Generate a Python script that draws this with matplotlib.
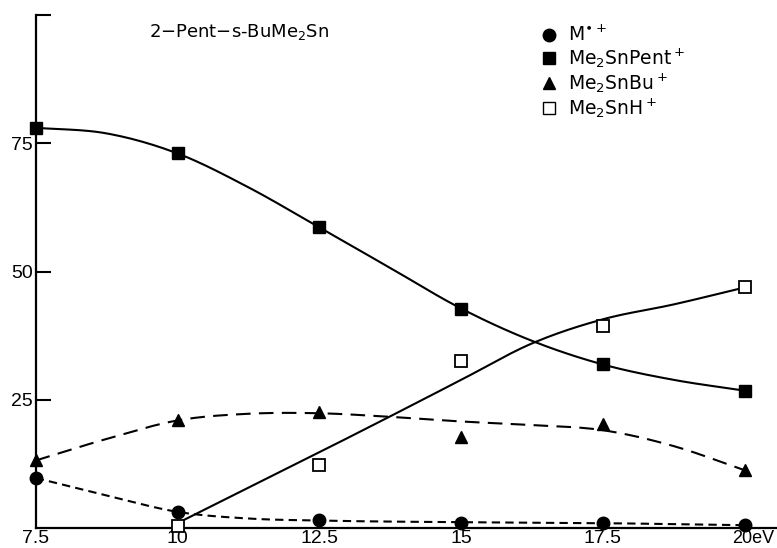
import numpy as np
import matplotlib.pyplot as plt
from matplotlib.lines import Line2D

# electron energy (eV) and relative ion intensities (%)
energy = [7.5, 10, 12.5, 15, 17.5, 20]
m_ion = [9.8, 3.2, 1.7, 1.0, 1.0, 0.6]
pent_ion = [78.0, 73.0, 58.6, 42.8, 31.9, 26.8]
bu_ion = [13.2, 21.0, 22.6, 17.7, 20.4, 11.3]
h_energy = [10, 12.5, 15, 17.5, 20]
h_ion = [0.4, 12.3, 32.5, 39.3, 46.9]

# hand-fitted trend curves, sampled every 1.25 eV
curve_e = [7.5, 8.75, 10, 11.25, 12.5, 13.75, 15, 16.25, 17.5, 18.75, 20]
m_curve = [9.8, 6.4, 3.2, 1.9, 1.5, 1.3, 1.2, 1.1, 1.0, 0.8, 0.6]
pent_curve = [78.0, 76.9, 73.0, 66.4, 58.6, 50.7, 42.8, 36.5, 31.9, 28.9, 26.8]
bu_curve = [13.2, 17.4, 21.0, 22.3, 22.4, 21.7, 20.8, 20.1, 19.1, 16.0, 11.3]
h_curve_e = [10, 11.25, 12.5, 13.75, 15, 16.25, 17.5, 18.75, 20]
h_curve = [1.0, 7.9, 14.8, 21.8, 28.9, 36.0, 40.7, 43.6, 46.9]


def smooth(x, y, n=20):
    # cubic Hermite segments through the sampled curve points
    x = np.asarray(x, float)
    y = np.asarray(y, float)
    m = np.gradient(y, x)
    xs, ys = [], []
    for i in range(len(x) - 1):
        h = x[i + 1] - x[i]
        t = np.linspace(0, 1, n, endpoint=False)
        h00 = 2 * t**3 - 3 * t**2 + 1
        h10 = t**3 - 2 * t**2 + t
        h01 = -2 * t**3 + 3 * t**2
        h11 = t**3 - t**2
        xs.append(x[i] + t * h)
        ys.append(h00 * y[i] + h10 * h * m[i] + h01 * y[i + 1] + h11 * h * m[i + 1])
    xs.append([x[-1]])
    ys.append([y[-1]])
    return np.concatenate(xs), np.concatenate(ys)


plt.rcParams['font.family'] = ['DejaVu Sans']
num_font = ['Liberation Sans Narrow', 'Liberation Sans', 'DejaVu Sans']

fig = plt.figure(figsize=(7.77, 5.48), dpi=100)
ax = fig.add_axes([0.046, 0.036, 0.954, 0.937])

lw = 1.5
ax.plot(*smooth(curve_e, pent_curve), color='black', lw=lw)
ax.plot(*smooth(h_curve_e, h_curve), color='black', lw=lw)
ax.plot(*smooth(curve_e, bu_curve), color='black', lw=lw, linestyle=(0, (7, 4)))
ax.plot(*smooth(curve_e, m_curve), color='black', lw=lw, linestyle=(0, (4, 2.5)))

ax.plot(energy, m_ion, 'o', color='black', ms=9, clip_on=False, zorder=5)
ax.plot(energy, pent_ion, 's', color='black', ms=9, clip_on=False, zorder=5)
ax.plot(energy, bu_ion, '^', color='black', ms=8, clip_on=False, zorder=5)
ax.plot(h_energy, h_ion, 's', mfc='white', mec='black', mew=1.3, ms=9,
        clip_on=False, zorder=5)

ax.set_xlim(7.5, 20.57)
ax.set_ylim(0, 100)
for s in ['top', 'right']:
    ax.spines[s].set_visible(False)
for s in ['left', 'bottom']:
    ax.spines[s].set_linewidth(1.6)

# last energy label carries the unit, written as one text
ax.set_xticks(energy)
ax.set_xticklabels(['7.5', '10', '12.5', '15', '17.5', ''], fontsize=14,
                   family=num_font)
ax.tick_params(axis='x', length=0, pad=1)
ax.text(19.78, -0.3, '20eV', fontsize=13, family=num_font, ha='left', va='top')

ax.set_yticks([25, 50, 75, 100])
ax.set_yticklabels(['25', '50', '75', ''], fontsize=14, family=num_font)
ax.tick_params(axis='y', direction='in', length=11, width=1.5, pad=2)

ax.text(9.5, 96.7, r'2$-$Pent$-$s-BuMe$_2$Sn', fontsize=13, va='center')

handles = [
    Line2D([], [], marker='o', color='black', ls='none', ms=9),
    Line2D([], [], marker='s', color='black', ls='none', ms=8),
    Line2D([], [], marker='^', color='black', ls='none', ms=8),
    Line2D([], [], marker='s', mfc='white', mec='black', ls='none', ms=8),
]
labels = [r'M$^{\bullet+}$', r'Me$_2$SnPent$^+$', r'Me$_2$SnBu$^+$', r'Me$_2$SnH$^+$']
ax.legend(handles, labels, loc='upper left', bbox_to_anchor=(0.665, 1.005),
          frameon=False, fontsize=13.5, handlelength=0.8, handletextpad=0.6,
          labelspacing=0.08, borderpad=0.2)

fig.savefig('out.png', dpi=100)
